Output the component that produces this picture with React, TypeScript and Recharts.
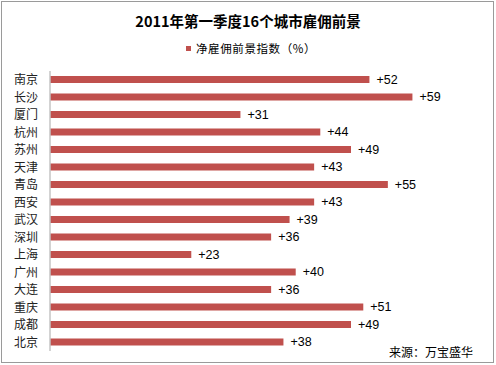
import { BarChart, Bar, XAxis, YAxis, LabelList } from 'recharts';

const cities = ['南京', '长沙', '厦门', '杭州', '苏州', '天津', '青岛', '西安', '武汉', '深圳', '上海', '广州', '大连', '重庆', '成都', '北京'];
const outlook = [52, 59, 31, 44, 49, 43, 55, 43, 39, 36, 23, 40, 36, 51, 49, 38];

const data = cities.map((city, i) => ({ city, value: outlook[i] }));

const RED = '#C0504D';
const cjk = '"Noto Sans CJK SC", "Liberation Sans", sans-serif';

const App = () => {
  return (
    <div style={{ position: 'absolute', left: 0, top: 0, width: 496, height: 365, background: '#fff' }}>
      <div
        style={{
          position: 'absolute', left: 1, top: 1, width: 493, height: 362,
          border: '1px solid #9a9a9a', boxSizing: 'border-box',
        }}
      />
      <div
        style={{
          position: 'absolute', left: 0, top: 11, width: 496, textAlign: 'center',
          fontFamily: cjk, fontWeight: 700, fontSize: 14.5, color: '#000', lineHeight: '20px',
        }}
      >
        2011年第一季度16个城市雇佣前景
      </div>
      <div
        style={{
          position: 'absolute', left: 186, top: 40, display: 'flex', alignItems: 'center',
          fontFamily: cjk, fontSize: 11.5, color: '#000', lineHeight: '16px', letterSpacing: 0.6,
        }}
      >
        <span style={{ display: 'inline-block', width: 5, height: 5, background: RED, marginRight: 5 }} />
        净雇佣前景指数（%）
      </div>
      <BarChart
        width={496}
        height={365}
        data={data}
        layout="vertical"
        margin={{ top: 71, right: 16, bottom: 14, left: 0 }}
        barSize={7}
      >
        <XAxis type="number" domain={[0, 70]} hide />
        <YAxis
          type="category"
          dataKey="city"
          width={50}
          axisLine={{ stroke: '#c4c4c4', strokeWidth: 1.5 }}
          tickLine={false}
          tickSize={6}
          tickMargin={6}
          tick={{ fill: '#222', fontSize: 12, fontFamily: cjk }}
          interval={0}
        />
        <Bar dataKey="value" fill={RED} isAnimationActive={false}>
          <LabelList
            dataKey="value"
            position="right"
            offset={7}
            formatter={(v: any) => `+${v}`}
            style={{ fill: '#000', fontSize: 12.5, fontFamily: '"Liberation Sans", Arial, sans-serif' }}
          />
        </Bar>
      </BarChart>
      <div
        style={{
          position: 'absolute', left: 389, top: 343, fontFamily: cjk, fontSize: 12,
          color: '#000', lineHeight: '18px',
        }}
      >
        来源：万宝盛华
      </div>
    </div>
  );
};

export default App;
